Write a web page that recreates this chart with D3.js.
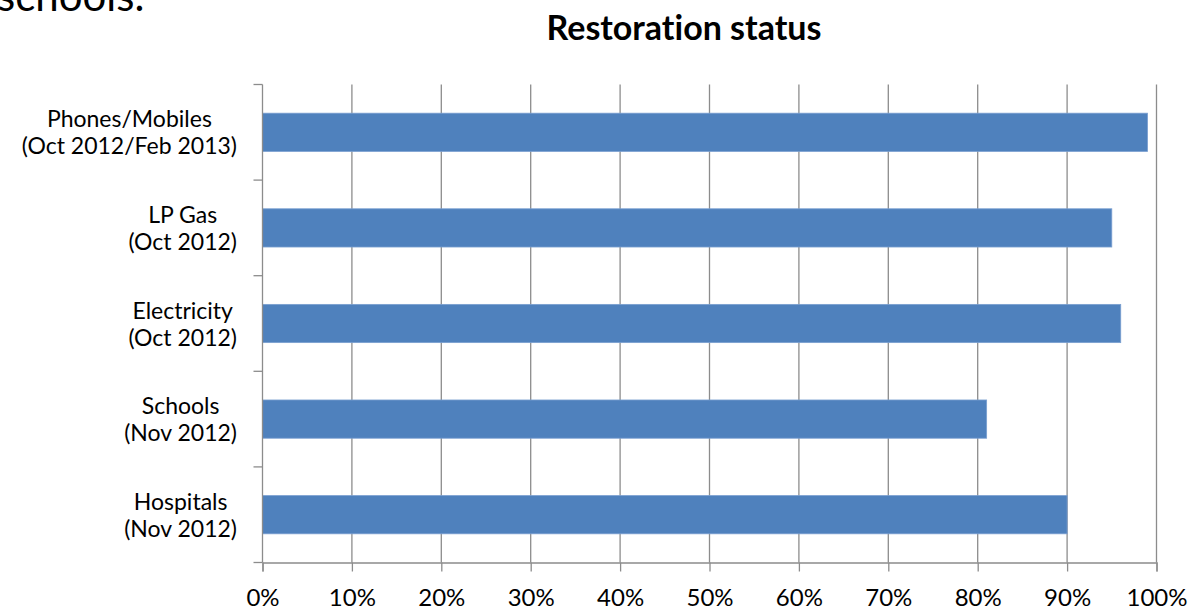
<!DOCTYPE html>
<html>
<head>
<meta charset="utf-8">
<script src="https://cdn.jsdelivr.net/npm/d3@7"></script>
<style>
  html, body { margin: 0; padding: 0; background: #fff; }
  svg { display: block; }
  text { font-family: Lato, "Open Sans", sans-serif; fill: #000; font-variant-ligatures: none; }
</style>
</head>
<body>
<svg id="chart" width="1188" height="610"></svg>
<script>
const categoryLine1 = ["Phones/Mobiles", "LP Gas", "Electricity", "Schools", "Hospitals"];
const categoryLine2 = ["(Oct 2012/Feb 2013)", "(Oct 2012)", "(Oct 2012)", "(Nov 2012)", "(Nov 2012)"];
const values = [0.99, 0.95, 0.96, 0.81, 0.90];
const xTicks = [0, 0.1, 0.2, 0.3, 0.4, 0.5, 0.6, 0.7, 0.8, 0.9, 1.0];
const titleText = "Restoration status";
const slideText = "schools.";

const svg = d3.select("#chart");
const margin = { left: 262.5, right: 1156.5, top: 84.5, bottom: 562.5 };

const x = d3.scaleLinear().domain([0, 1]).range([margin.left, margin.right]);
const y = d3.scaleBand().domain(d3.range(values.length)).range([margin.top, margin.bottom]).paddingInner(0.6).paddingOuter(0.3);
const yOuter = d3.scaleBand().domain(d3.range(values.length)).range([margin.top, margin.bottom]);

// slide text fragment
svg.append("text").attr("x", -3).attr("y", 11).attr("font-size", 42).text(slideText);

// title
svg.append("text").attr("x", 684).attr("y", 40).attr("text-anchor", "middle")
  .attr("font-size", 34).attr("font-weight", "bold").text(titleText);

// gridlines
svg.append("g").selectAll("line").data(xTicks.slice(1)).join("line")
  .attr("x1", d => x(d)).attr("x2", d => x(d))
  .attr("y1", margin.top).attr("y2", margin.bottom)
  .attr("stroke", "#8c8c8c").attr("stroke-width", 1.3);

// bars
svg.append("g").selectAll("rect").data(values).join("rect")
  .attr("x", x(0))
  .attr("y", (d, i) => y(i))
  .attr("width", d => x(d) - x(0))
  .attr("height", y.bandwidth())
  .attr("fill", "#4f81bd")
  .attr("stroke", "#7a9fd0").attr("stroke-width", 0.8);

// x axis
const xAxis = d3.axisBottom(x).tickValues(xTicks).tickFormat(d3.format(".0%")).tickSize(9).tickPadding(17);
const gx = svg.append("g").attr("transform", `translate(0,${margin.bottom})`).call(xAxis);
gx.select(".domain").attr("stroke", "#8c8c8c").attr("stroke-width", 1.3);
gx.selectAll(".tick line").attr("stroke", "#8c8c8c").attr("stroke-width", 1.3);
gx.selectAll(".tick text").attr("font-size", 24).attr("font-family", "Lato, sans-serif").attr("fill", "#000");

// y axis line and ticks at band boundaries
const boundaries = d3.range(values.length + 1).map(i => i < values.length ? yOuter(i) : margin.bottom);
svg.append("line").attr("x1", x(0)).attr("x2", x(0)).attr("y1", margin.top).attr("y2", margin.bottom)
  .attr("stroke", "#8c8c8c").attr("stroke-width", 1.3);
svg.append("g").selectAll("line").data(boundaries).join("line")
  .attr("x1", x(0) - 9).attr("x2", x(0))
  .attr("y1", d => d).attr("y2", d => d)
  .attr("stroke", "#8c8c8c").attr("stroke-width", 1.3);

// category labels
const lab = svg.append("g").selectAll("text").data(values).join("text")
  .attr("text-anchor", "middle")
  .attr("font-size", 23);
lab.each(function(d, i) {
  const t = d3.select(this);
  const cy = yOuter(i) + yOuter.bandwidth() / 2;
  t.append("tspan").attr("x", 119).attr("y", cy - 5).text(categoryLine1[i]);
  t.append("tspan").attr("x", 119).attr("y", cy + 22).text(categoryLine2[i]);
});
lab.each(function() {
  const w = this.getBBox().width;
  d3.select(this).selectAll("tspan").attr("x", 237 - w / 2);
});
</script>
</body>
</html>
